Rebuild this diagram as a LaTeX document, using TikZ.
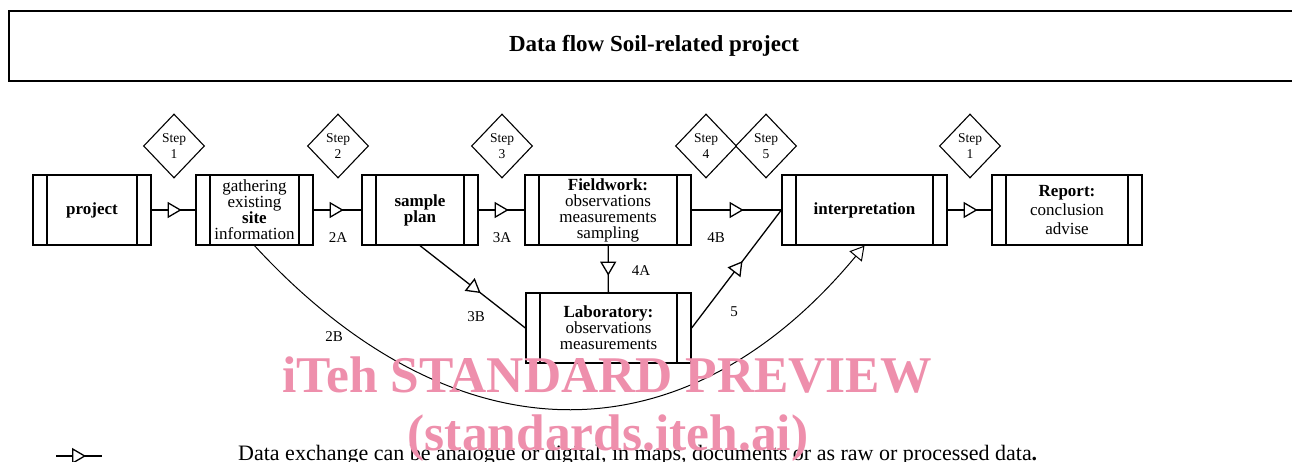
\documentclass[tikz,border=0pt]{standalone}
\usepackage{fontspec}
\setmainfont{Liberation Serif}
\usetikzlibrary{positioning,arrows.meta,shapes.geometric,decorations.markings}
\tikzset{%
    proc/.style={draw, line width=1.3pt, minimum height=70pt, inner sep=0pt, align=center,
        font=\fontsize{17}{16}\selectfont,
        path picture={%
            % side bars
            \draw[line width=1.3pt] ([xshift=14pt]path picture bounding box.north west) -- ([xshift=14pt]path picture bounding box.south west);
            \draw[line width=1.3pt] ([xshift=-14pt]path picture bounding box.north east) -- ([xshift=-14pt]path picture bounding box.south east);
        }},
    stepbox/.style={draw, diamond, line width=1.1pt, minimum width=61pt, minimum height=64pt, inner sep=0pt, align=center, font=\fontsize{13.5}{16}\selectfont},
    lbl/.style={font=\fontsize{15}{16}\selectfont},
    flow/.style={line width=1.3pt, postaction={decorate}, decoration={markings, mark=at position #1 with {\arrow{Triangle[fill=white, length=14pt, width=16pt]}}}},
    flow/.default=30pt,
}
\definecolor{wmpink}{RGB}{238,143,172}

\begin{document}
\begin{tikzpicture}[x=1pt, y=-1pt]
    \useasboundingbox (0,0) rectangle (1292,461);

    % title
    \node[draw, line width=1.8pt, minimum width=1290pt, minimum height=70pt, font=\bfseries\fontsize{23}{26}\selectfont] (title) at (654,46) {Data flow Soil-related project};

    % process boxes
    \node[proc, minimum width=118pt] (project) at (92,210) {\textbf{project}};
    \node[proc, minimum width=117pt] (gather) at (254.5,210) {gathering\\existing\\\textbf{site}\\information};
    \node[proc, minimum width=116pt] (plan) at (420,210) {\textbf{sample}\\\textbf{plan}};
    \node[proc, minimum width=166pt] (field) at (608,210) {\textbf{Fieldwork:}\\observations\\measurements\\sampling};
    \node[proc, minimum width=165pt] (interp) at (864.5,210) {\textbf{interpretation}};
    \node[proc, minimum width=150pt, font=\fontsize{17}{19}\selectfont] (report) at (1067,210) {\textbf{Report:}\\conclusion\\advise};
    \node[proc, minimum width=165pt] (lab) at (608.5,328) {\textbf{Laboratory:}\\observations\\measurements};

    % steps
    \node[stepbox] (s1) at (174,146) {Step\\1};
    \node[stepbox] (s2) at (338,146) {Step\\2};
    \node[stepbox] (s3) at (502,146) {Step\\3};
    \node[stepbox] (s4) at (706,146) {Step\\4};
    \node[stepbox] (s5) at (766,146) {Step\\5};
    \node[stepbox] (s6) at (970,146) {Step\\1};

    % data flows
    \draw[flow] (project) -- (gather);
    \draw[flow] (gather) -- (plan);
    \draw[flow] (plan) -- (field);
    \draw[flow=52pt] (field) -- (interp);
    \draw[flow] (interp) -- (report);
    \draw[flow] (field) -- (lab);
    \draw[flow=77pt] (plan.south) -- (lab.west);
    \draw[flow=84pt] (lab.east) -- (interp.west);
    \draw[line width=1pt, -{Triangle[fill=white, length=14pt, width=16pt]}] (gather.south) .. controls +(200,217) and +(-180,217) .. (interp.south);

    % flow labels
    \node[lbl] (l2a) at (338,238) {2A};
    \node[lbl] (l3a) at (502,238) {3A};
    \node[lbl] (l4b) at (716,238) {4B};
    \node[lbl] (l4a) at (641,271) {4A};
    \node[lbl] (l3b) at (476,317) {3B};
    \node[lbl] (l5) at (734,312) {5};
    \node[lbl] (l2b) at (334,337) {2B};

    % legend
    \coordinate (lgA) at (56,456);
    \coordinate (lgB) at (102,456);
    \draw[flow] (lgA) -- (lgB);
    \node[anchor=base west, inner sep=0pt, font=\fontsize{22}{24}\selectfont] (legend) at (238,460) {Data exchange can be analogue or digital, in maps, documents or as raw or processed data\textbf{.}};

    % watermark
    \node[anchor=base, text=wmpink, font=\bfseries\fontsize{51.5}{56}\selectfont] (wm1) at (607,392) {iTeh STANDARD PREVIEW};
    \node[anchor=base, text=wmpink, font=\bfseries\fontsize{51.5}{56}\selectfont] (wm2) at (608,450) {(standards.iteh.ai)};
\end{tikzpicture}
\end{document}
